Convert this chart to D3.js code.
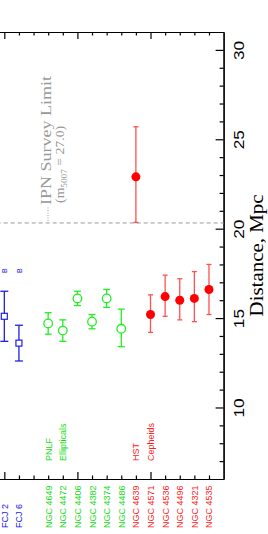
<!DOCTYPE html>
<html>
<head>
<meta charset="utf-8">
<script src="https://cdn.jsdelivr.net/npm/d3@7"></script>
<style>
  html, body { margin: 0; padding: 0; background: #fff; }
  svg { display: block; }
</style>
</head>
<body>
<div id="chart"></div>
<script>
// galaxy labels along the category axis ("" = empty slot)
var names = ["FCJ 2", "FCJ 6", "", "NGC 4649", "NGC 4472", "NGC 4406", "NGC 4382", "NGC 4374",
             "NGC 4486", "NGC 4639", "NGC 4571", "NGC 4536", "NGC 4496", "NGC 4321", "NGC 4535"];
var groups = ["blue", "blue", "", "green", "green", "green", "green", "green",
              "green", "red", "red", "red", "red", "red", "red"];
// distances (Mpc) and error bar ends
var dist  = [15.1, 13.6, null, 14.7, 14.3, 16.1, 14.8, 16.1, 14.4, 22.9, 15.2, 16.2, 16.0, 16.1, 16.6];
var errHi = [16.5, 14.6, null, 15.3, 14.9, 16.5, 15.2, 16.6, 15.5, 25.7, 16.3, 17.4, 17.2, 17.6, 18.0];
var errLo = [13.7, 12.6, null, 14.1, 13.7, 15.7, 14.4, 15.6, 13.4, 20.35, 14.2, 15.1, 14.9, 14.8, 15.2];
var flags = ["B", "B", "", "", "", "", "", "", "", "", "", "", "", "", ""];

var distTicks = [10, 15, 20, 25, 30];
var surveyLimit = 20.32;

var colors = {
  blue:  {mark: "#2020e0", bar: "#2020e0", text: "#1010f0"},
  green: {mark: "#22ee22", bar: "#22ee22", text: "#10dd10"},
  red:   {mark: "#ff0000", bar: "#ff5050", text: "#ff2020"}
};

var W = 268, H = 534;
var svg = d3.select("#chart").append("svg")
    .attr("width", W)
    .attr("height", H);

// category index runs left to right, distance runs bottom to top
var x = d3.scaleLinear().domain([-1, 15]).range([-10.3, 223.6]);
var y = d3.scaleLinear().domain([6, 31]).range([479, 32]);

var idx = d3.range(names.length);
var minorD = d3.range(7, 31).filter(function(v) { return v % 5 !== 0; });

// frame / axes
var right = svg.append("g").attr("transform", "translate(" + x(15) + ",0)");
right.append("g").call(d3.axisRight(y).tickValues(minorD).tickSize(-4).tickSizeOuter(0).tickFormat(""));
var rmaj = right.append("g").call(d3.axisRight(y).tickValues(distTicks).tickSize(-8).tickSizeOuter(0));
rmaj.selectAll("text")
    .attr("x", null).attr("dy", null)
    .attr("text-anchor", "middle")
    .attr("transform", "translate(20,0) rotate(-90) scale(1.15,1)")
    .style("font-family", "'Liberation Sans', Arial, sans-serif")
    .style("font-size", "15px")
    .attr("fill", "#000");

var minorC = idx.filter(function(i) { return i % 5 !== 0; });
var majorC = idx.filter(function(i) { return i % 5 === 0; });
[[y(31), d3.axisTop], [y(6), d3.axisBottom]].forEach(function(p) {
  var g = svg.append("g").attr("transform", "translate(0," + p[0] + ")");
  g.append("g").call(p[1](x).tickValues(minorC).tickSize(-3.5).tickSizeOuter(0).tickFormat(""));
  g.append("g").call(p[1](x).tickValues(majorC).tickSize(-7).tickSizeOuter(0).tickFormat(""));
});
svg.selectAll(".domain").attr("stroke", "#000").attr("stroke-width", 1.2);
svg.selectAll(".tick line").attr("stroke", "#000").attr("stroke-width", 1.2);

// axis title
svg.append("text")
    .attr("transform", "translate(263," + ((y(6) + y(31)) / 2) + ") rotate(-90) scale(1.1,1)")
    .attr("text-anchor", "middle")
    .style("font-family", "'Liberation Serif', 'Times New Roman', serif")
    .style("font-size", "19px")
    .text("Distance, Mpc");

// survey limit
svg.append("line")
    .attr("x1", x(-1)).attr("x2", x(15))
    .attr("y1", y(surveyLimit)).attr("y2", y(surveyLimit))
    .attr("stroke", "#999").attr("stroke-width", 1)
    .attr("stroke-dasharray", "4,3");
svg.append("line")
    .attr("x1", 48).attr("x2", 48)
    .attr("y1", y(surveyLimit) - 2).attr("y2", y(surveyLimit) - 16)
    .attr("stroke", "#999").attr("stroke-width", 1)
    .attr("stroke-dasharray", "1,1.5");
svg.append("text")
    .attr("transform", "translate(51," + (y(surveyLimit) - 18) + ") rotate(-90) scale(1.2,1)")
    .style("font-family", "'Liberation Serif', 'Times New Roman', serif")
    .style("font-size", "15px")
    .attr("fill", "#999")
    .text("IPN Survey Limit");
var sub = svg.append("text")
    .attr("transform", "translate(64," + (y(surveyLimit) - 20) + ") rotate(-90) scale(1.15,1)")
    .style("font-family", "'Liberation Serif', 'Times New Roman', serif")
    .style("font-size", "12px")
    .attr("fill", "#999");
sub.append("tspan").text("(m");
sub.append("tspan").attr("dy", 3).style("font-size", "8px").text("5007");
sub.append("tspan").attr("dy", -3).text(" = 27.0)");

// error bars
var pts = idx.filter(function(i) { return dist[i] != null; });
var capW = {blue: 4, green: 3.5, red: 2.5};
var bars = svg.append("g").selectAll("g").data(pts).enter().append("g")
    .attr("stroke", function(i) { return colors[groups[i]].bar; })
    .attr("stroke-width", 1.3);
bars.append("line")
    .attr("x1", function(i) { return x(i); }).attr("x2", function(i) { return x(i); })
    .attr("y1", function(i) { return y(errHi[i]); }).attr("y2", function(i) { return y(errLo[i]); });
["hi", "lo"].forEach(function(k) {
  bars.append("line")
      .attr("x1", function(i) { return x(i) - capW[groups[i]]; })
      .attr("x2", function(i) { return x(i) + capW[groups[i]]; })
      .attr("y1", function(i) { return y(k === "hi" ? errHi[i] : errLo[i]); })
      .attr("y2", function(i) { return y(k === "hi" ? errHi[i] : errLo[i]); });
});

// markers
var marks = svg.append("g");
marks.selectAll("rect").data(pts.filter(function(i) { return groups[i] === "blue"; })).enter()
  .append("rect")
    .attr("x", function(i) { return x(i) - 3; })
    .attr("y", function(i) { return y(dist[i]) - 3; })
    .attr("width", 6).attr("height", 6)
    .attr("fill", "#fff")
    .attr("stroke", colors.blue.mark).attr("stroke-width", 1.2);
marks.selectAll("circle.g").data(pts.filter(function(i) { return groups[i] === "green"; })).enter()
  .append("circle").attr("class", "g")
    .attr("cx", function(i) { return x(i); })
    .attr("cy", function(i) { return y(dist[i]); })
    .attr("r", 4.3)
    .attr("fill", "#fff")
    .attr("stroke", colors.green.mark).attr("stroke-width", 1.3);
marks.selectAll("circle.r").data(pts.filter(function(i) { return groups[i] === "red"; })).enter()
  .append("circle").attr("class", "r")
    .attr("cx", function(i) { return x(i); })
    .attr("cy", function(i) { return y(dist[i]); })
    .attr("r", 4.5)
    .attr("fill", colors.red.mark);

// "B" flags
svg.append("g").selectAll("text").data(idx.filter(function(i) { return flags[i]; })).enter()
  .append("text")
    .attr("transform", function(i) { return "translate(" + (x(i) + 3) + ",270.7) rotate(-90)"; })
    .attr("text-anchor", "middle")
    .style("font-family", "'Liberation Sans', Arial, sans-serif")
    .style("font-size", "7px")
    .attr("fill", colors.blue.text)
    .text(function(i) { return flags[i]; });

// galaxy names under the frame
svg.append("g").selectAll("text").data(idx.filter(function(i) { return names[i]; })).enter()
  .append("text")
    .attr("transform", function(i) { return "translate(" + (x(i) + 3.5) + ",528) rotate(-90)"; })
    .style("font-family", "'Liberation Sans', Arial, sans-serif")
    .style("font-size", "9px")
    .attr("fill", function(i) { return colors[groups[i]].text; })
    .text(function(i) { return names[i]; });

// method labels
var methodText = ["PNLF", "Ellipticals", "HST", "Cepheids"];
var methodPos = [3, 4, 9, 10];
var methodGroup = ["green", "green", "red", "red"];
svg.append("g").selectAll("text").data(d3.range(methodText.length)).enter()
  .append("text")
    .attr("transform", function(k) { return "translate(" + (x(methodPos[k]) + 3.5) + ",461) rotate(-90)"; })
    .style("font-family", "'Liberation Sans', Arial, sans-serif")
    .style("font-size", "9px")
    .attr("fill", function(k) { return colors[methodGroup[k]].text; })
    .text(function(k) { return methodText[k]; });
</script>
</body>
</html>
